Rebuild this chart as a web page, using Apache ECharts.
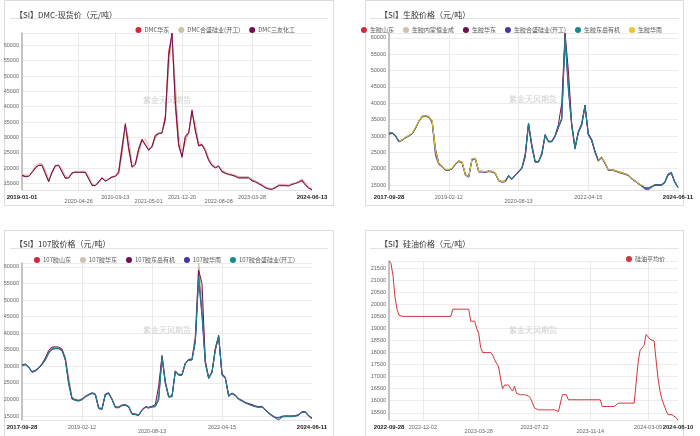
<!DOCTYPE html>
<html><head><meta charset="utf-8">
<script src="https://cdn.jsdelivr.net/npm/echarts@6/dist/echarts.min.js"></script>
<style>html,body{margin:0;padding:0;background:#fff}#c{width:700px;height:436px}</style>
</head><body><div id="c"></div>
<script>
// ---------- Panel 1: DMC ----------
const dmcNames = ['DMC华东', 'DMC合盛硅业(开工)', 'DMC三友化工'];
const dmcHuadong = [17800,17400,17500,18800,20300,21000,21000,18500,15800,18800,
 20900,21000,19000,16900,17000,18500,18800,18700,18800,18700,
 16700,14600,14400,15600,17000,15900,16500,17200,17500,19000,
 27000,34000,26000,20500,21500,26500,29500,27800,26000,27200,
 30800,31500,31600,37000,58000,63500,40000,27000,24000,30500,
 31600,39000,32000,27500,27800,25800,22800,21000,20300,20800,
 19000,18500,18100,17900,17500,17000,17000,17000,17000,16100,
 15700,15100,14500,13800,13400,13300,13800,14500,14500,14500,
 14400,14900,15200,15600,16200,14700,13700,13100];
const dmcHesheng = [18000,17800,17700,19000,20800,21600,21500,19500,16500,18200,
 20500,21200,19800,17500,16800,18000,19000,19000,19000,19000,
 17500,15000,14500,15000,16500,16500,16200,17000,17500,18000,
 24000,33500,30000,22000,21000,24500,28500,29500,27000,26500,
 29500,31500,31800,35000,52000,63000,48000,31000,25000,28000,
 31500,37500,35000,28500,28000,26500,23500,21500,20500,20800,
 19500,18800,18300,18000,17800,17300,17200,17300,17200,16500,
 15900,15400,14800,14000,13600,13300,13500,14300,14600,14600,
 14500,14800,15300,15700,16500,15500,14000,13300];
const dmcSanyou = [17600,17200,17300,18500,20000,20900,20900,18200,15600,18600,
 20700,20900,18800,16700,16800,18400,18700,18600,18700,18600,
 16500,14400,14300,15500,16800,15700,16400,17100,17300,18500,
 26000,34500,27000,20300,21200,26000,29200,27500,25800,27000,
 30500,31200,31400,36000,56000,64000,42000,28000,23500,30000,
 31400,38500,32500,27200,27600,25500,22500,20800,20100,20600,
 18800,18300,17900,17700,17300,16800,16800,16800,16800,15900,
 15500,14900,14300,13600,13200,13100,13600,14300,14300,14300,
 14200,14700,15000,15400,15900,14500,13500,12900];
const dmcTickIdx = [0,17,28,38,48,59,69,87];
const dmcTickText = ['2019-01-01','2020-04-26','2020-09-13','2021-05-01','2021-12-20','2022-08-08','2023-03-28','2024-06-13'];

// ---------- Panel 2: 生胶 ----------
const gumNames = ['生胶山东','生胶内蒙恒业成','生胶华东','生胶合盛硅业(开工)','生胶东岳有机','生胶华南'];
const gumShandong = [30700,30900,30000,28300,28800,29500,30100,30800,32400,34500,
 35900,36000,35800,34300,25500,21500,20600,19700,19600,20000,
 21400,22200,21900,18100,17500,22900,23000,19100,19100,19000,
 19200,19100,18600,16400,16000,16100,17800,16800,18000,19100,
 20100,23800,33700,26800,22100,22100,24400,30200,28300,28300,
 29900,32700,35300,61000,45500,33400,26200,31100,33400,39200,
 30400,28700,25200,22500,23400,21800,19600,19600,19400,19000,
 18700,18400,18000,17000,16300,15500,14800,14100,14000,14400,
 15000,15000,15000,15800,18200,18700,16000,14300];
const gumHengyecheng = [30500,30700,29900,28500,28900,29400,30000,30600,32200,34300,
 35800,36000,35800,34500,26000,21800,20800,19900,19800,20200,
 21600,22300,22000,18300,17700,22700,22900,19300,19300,19200,
 19300,19200,18800,16600,16200,16300,17800,17000,18100,19200,
 20300,23700,33200,27200,22300,22300,24300,30000,28500,28500,
 30100,32600,35200,59000,46000,33800,26500,31000,33300,38800,
 30600,28900,25400,22700,23600,21900,19800,19800,19600,19200,
 18900,18600,18200,17200,16500,15700,15000,14300,14200,14600,
 15200,15200,15200,15900,18100,18600,16200,14500];
const gumHuadong = [30600,30900,30100,28400,28900,29600,30200,30900,32600,34700,
 36100,36200,36000,34600,26000,21700,20700,19800,19700,20100,
 21600,22400,22100,18200,17600,23100,23200,19200,19200,19100,
 19300,19200,18700,16500,16100,16200,18000,16900,18100,19200,
 20300,24500,34000,27500,22200,22200,24800,30500,28400,28400,
 30200,33500,40000,61500,50000,34000,26500,31500,33800,39500,
 30800,29000,25500,22600,23600,21900,19700,19700,19500,19100,
 18800,18500,18100,17100,16400,15600,14900,14200,14100,14500,
 15100,15100,15100,15900,18400,18900,16100,14400];
const gumHesheng = [31000,30800,29800,28200,28700,29400,30000,30700,32300,34500,
 35900,36000,35800,34000,24000,21300,20500,19600,19500,19900,
 21300,22200,21800,18000,17400,22800,23000,19000,19000,18900,
 19100,19000,18500,16300,15900,16000,17700,16700,17900,19000,
 20000,23500,33500,26500,22000,22000,24200,30000,28200,28200,
 29800,32500,35000,60000,44000,33000,26000,31000,33200,39000,
 30300,28600,25000,22300,23300,21600,19500,19500,19300,18900,
 18600,18300,17900,16900,16200,15400,14700,13800,13500,14300,
 14900,14900,14900,15600,18000,18600,15800,14200];
const gumDongyue = [30800,31000,30000,28300,28800,29500,30100,30800,32500,34600,
 36000,36100,35900,34500,25000,21500,20600,19700,19600,20000,
 21500,22300,22000,18100,17500,23000,23100,19100,19100,19000,
 19200,19100,18600,16400,16000,16100,17900,16800,18000,19100,
 20200,24000,33900,27000,22100,22100,24500,30300,28300,28300,
 30000,32800,35500,60500,45000,33500,26300,31200,33500,39300,
 30500,28800,25300,22500,23500,21800,19600,19600,19400,19000,
 18700,18400,18000,17000,16300,15500,14800,14100,14000,14400,
 15000,15000,15000,15800,18300,18800,16000,14300];
const gumHuanan = [null,null,null,28400,28900,29600,30200,30900,32600,34700,
 36100,36200,36000,34600,25500,21600,20700,19800,19700,20100,
 21600,22400,22100,18200,17600,23100,23200,19200,19200,19100,
 19300,19200,18700,16500,16100,16200,null,null,null,null,
 null,null,null,null,null,null,null,null,null,null,
 null,null,null,null,null,null,null,null,null,null,
 null,null,null,22600,23600,21900,19700,19700,19500,19100,
 18800,18500,18100,17100,16400,15600,14900,null,null,null,
 null,null,null,null,null,null,null,null];
const gumTickIdx = [0,18,39,60,87];
const gumTickText = ['2017-09-28','2019-02-12','2020-08-13','2022-04-15','2024-06-11'];

// ---------- Panel 3: 107胶 ----------
const g107Names = ['107胶山东','107胶华东','107胶东岳有机','107胶华南','107胶合盛硅业(开工)'];
const g107Shandong = [30200,30500,29700,28200,28600,29400,30500,32200,34300,35500,
 35600,35500,35000,32500,26000,20400,19900,19700,20100,20900,
 21500,22000,21600,17500,17200,21600,22000,20100,17700,17700,
 18300,18400,17900,15700,15600,15300,16900,17800,17600,17900,
 18000,21000,33000,25500,21000,21000,28600,27500,27500,31000,
 32000,32200,38000,60000,47000,31500,26500,28300,35200,39200,
 27800,26700,21200,21900,21300,20200,19700,19100,18700,18300,
 18000,17800,17900,16900,16000,15200,14600,14500,14900,15000,
 15000,15000,15100,15400,16300,16300,15100,14400];
const g107Huadong = [30000,30300,29600,28500,28900,29700,30800,32500,34600,35800,
 35800,35600,35200,33000,27000,20800,20200,19900,20300,21000,
 21600,22100,21800,17800,17400,21700,22100,20300,17900,17900,
 18400,18500,18000,15900,15700,15400,17000,17900,17700,18000,
 18100,21500,33500,26000,21200,21200,28800,27700,27700,31200,
 32200,32500,40000,61200,50000,32000,26800,28500,35500,39500,
 28000,26900,21500,22000,21500,20400,19800,19200,18800,18400,
 18100,17900,18000,17000,16100,15300,14700,14600,15000,15100,
 15100,15100,15200,15500,16400,16400,15200,14500];
const g107Dongyue = [30500,30700,29900,28400,28800,29600,30800,32500,34800,35800,
 35900,35800,35200,32300,25500,20300,19900,19700,20100,20900,
 21500,22000,21600,17400,17200,21600,22000,20100,17700,17700,
 18300,18400,17900,15700,15600,15300,16900,17800,17600,17900,
 18500,24000,33200,25200,20900,21000,28600,27500,27500,31000,
 32000,32100,38500,59000,55000,31500,26500,28300,35500,39300,
 27700,26600,21100,21900,21300,20200,19700,19100,18700,18500,
 18000,17800,17900,16900,16000,15200,14600,14500,14900,15000,
 15000,15000,15100,15400,16300,16300,15100,14400];
const g107Huanan = [30300,30500,29700,28200,28600,29400,30500,31900,33900,35100,
 35300,35300,34700,31800,24500,20100,19700,19500,19900,20700,
 21300,21800,21400,17200,17000,21400,21800,19900,17500,17500,
 18100,18200,17700,15500,15400,15100,16700,17600,17400,17700,
 17800,19800,32700,24800,20700,20800,28400,27300,27300,30800,
 31800,31900,37300,56000,45000,30800,26300,28100,34800,38800,
 27300,26300,20900,21700,21100,20000,19500,18900,18500,18100,
 17800,17600,17700,16700,15800,15000,14400,13800,14700,14800,
 14800,14800,14900,15200,16100,16100,14900,14200];
const g107Hesheng = [30400,30600,29800,28300,28700,29500,30600,32000,34000,35200,
 35400,35400,34800,32000,25000,20200,19800,19600,20000,20800,
 21400,21900,21500,17300,17100,21500,21900,20000,17600,17600,
 18200,18300,17800,15600,15500,15200,16800,17700,17500,17800,
 17900,20000,32900,25000,20800,20900,28500,27400,27400,30900,
 31900,32000,37500,57000,46000,31000,26400,28200,35000,39000,
 27500,26500,21000,21800,21200,20100,19600,19000,18600,18200,
 17900,17700,17800,16800,15900,15100,14500,14400,14800,14900,
 14900,14900,15000,15300,16200,16200,15000,14300];
const g107TickIdx = [0,18,39,60,87];
const g107TickText = ['2017-09-28','2019-02-12','2020-08-13','2022-04-15','2024-06-11'];

// ---------- Panel 4: 硅油 ----------
const oilNames = ['硅油平均价'];
const oilAvg = [21800,21700,21200,20300,19800,19550,
 19500,19500,19500,19500,19500,19500,19500,19500,19500,19500,
 19500,19500,19500,19500,19500,19500,19500,19500,19500,19500,
 19500,19500,19500,19500,19500,19500,
 19800,19800,19800,19800,19800,19800,19800,19800,19800,
 19300,19300,19300,
 19000,18800,18200,18000,18000,18000,18000,18000,17900,17700,17700,17400,16900,16500,16650,16650,16650,16500,16400,16600,16300,
 16250,16250,16250,16250,16250,
 16200,16100,15900,15700,
 15620,15620,15620,15620,15620,15620,15620,15620,15620,15620,15620,
 15550,15550,
 16250,16250,16250,
 16040,16040,16040,16040,16040,16040,16040,16040,16040,16040,16040,16040,16040,16040,16040,16040,16040,
 15760,15760,15760,15760,15760,15760,15760,15760,
 15900,15900,15900,15900,15900,15900,15900,15900,15900,15900,
 17600,18100,18200,18300,18750,18750,18550,18480,18480,18400,16900,16400,16040,16040,15600,
 15420,15420,15420,15420,
 15300,15200];
const oilTickIdx = [0,17,45,73,101,130,145];
const oilTickText = ['2022-09-28','2022-12-02','2023-03-28','2023-07-22','2023-11-14','2024-03-09','2024-06-10'];

const titles = ['【SI】DMC-现货价（元/吨）','【SI】生胶价格（元/吨）','【SI】107胶价格（元/吨）','【SI】硅油价格（元/吨）'];
const watermark = '紫金天风期货';

// ---------- colours ----------
const C_RED = '#d4283a', C_BEIGE = '#cbc3ad', C_MAROON = '#72104e', C_INDIGO = '#46399a', C_TEAL = '#178a8c', C_YELLOW = '#f3c22c';

const FONT = '"Noto Sans CJK SC","Noto Sans",sans-serif';
const NUMFONT = 'Arial, "Liberation Sans", sans-serif';

function xAxisCfg(gridIndex, n, tickIdx, tickText, lowered) {
  const pos = {};
  tickIdx.forEach((t, k) => { pos[t] = k; });
  return {
    type: 'category', gridIndex, boundaryGap: false,
    data: Array.from({ length: n }, (_, i) => String(i)),
    axisLine: { show: true, lineStyle: { color: '#e2e2e2', width: 1 } },
    axisTick: { show: false },
    axisLabel: {
      interval: (i) => pos[i] !== undefined,
      margin: 4,
      fontFamily: NUMFONT,
      formatter: (v, i) => {
        const k = pos[i];
        if (k === undefined) return '';
        const t = tickText[k];
        if (k === 0 || k === tickIdx.length - 1) return '{b|' + t + '}';
        return lowered.includes(k) ? '{l|' + t + '}' : '{n|' + t + '}';
      },
      rich: {
        b: { fontSize: 6, fontWeight: 'bold', color: '#222', fontFamily: NUMFONT },
        n: { fontSize: 5.5, color: '#666', fontFamily: NUMFONT },
        l: { fontSize: 5.5, color: '#666', padding: [4, 0, 0, 0], fontFamily: NUMFONT }
      }
    },
    splitLine: { show: true, interval: (i) => pos[i] !== undefined && i !== 0 && i !== n - 1, lineStyle: { color: '#e9e9e9', width: 1 } }
  };
}
function yAxisCfg(gridIndex, splitNumber, step) {
  return {
    type: 'value', gridIndex, min: 'dataMin', max: 'dataMax', splitNumber,
    axisLine: { show: true, lineStyle: { color: '#b0b0b0', width: 1.5 } },
    axisTick: { show: false },
    axisLabel: { fontSize: 5.5, color: '#666', margin: 3, showMinLabel: false, showMaxLabel: false,
      fontFamily: NUMFONT,
      formatter: (v) => (Math.abs(v % step) < 1e-6 ? String(v) : '') },
    splitLine: { show: true, lineStyle: { color: '#ececec', width: 1 } }
  };
}
function lineSeries(name, data, color, idx) {
  return { name, type: 'line', data, xAxisIndex: idx, yAxisIndex: idx, showSymbol: false, symbol: 'circle',
    connectNulls: false, lineStyle: { width: 1, color }, itemStyle: { color }, animation: false };
}

const grids = [
  { left: 22, right: 388, top: 33, bottom: 246 },
  { left: 389, right: 22, top: 33, bottom: 246 },
  { left: 22, right: 388, top: 263, bottom: 16 },
  { left: 389, right: 22, top: 261, bottom: 16 }
];

const legendBase = { icon: 'circle', itemWidth: 6, itemHeight: 6, itemGap: 9,
  textStyle: { fontSize: 6, color: '#555', fontFamily: FONT, padding: [0, 0, 0, -2] } };

const option = {
  animation: false,
  backgroundColor: '#fff',
  title: [
    { text: titles[0], left: 10, top: 6 },
    { text: titles[1], left: 375, top: 6 },
    { text: titles[2], left: 10, top: 235 },
    { text: titles[3], left: 375, top: 235 }
  ].map(t => Object.assign(t, { textStyle: { fontSize: 8, fontWeight: 'normal', color: '#333', fontFamily: FONT } })),
  legend: [
    Object.assign({ data: dmcNames, right: 400, top: 22 }, legendBase),
    Object.assign({ data: gumNames, right: 33, top: 22 }, legendBase),
    Object.assign({ data: g107Names, right: 400, top: 252 }, legendBase),
    Object.assign({ data: oilNames, right: 30, top: 251 }, legendBase)
  ],
  grid: grids,
  xAxis: [
    xAxisCfg(0, dmcSanyou.length, dmcTickIdx, dmcTickText, [1, 3, 5]),
    xAxisCfg(1, gumDongyue.length, gumTickIdx, gumTickText, [2]),
    xAxisCfg(2, g107Hesheng.length, g107TickIdx, g107TickText, [2]),
    xAxisCfg(3, oilAvg.length, oilTickIdx, oilTickText, [2, 4])
  ],
  yAxis: [yAxisCfg(0, 10, 5000), yAxisCfg(1, 10, 5000), yAxisCfg(2, 10, 5000), yAxisCfg(3, 13, 500)],
  series: [
    lineSeries(dmcNames[0], dmcHuadong, C_RED, 0),
    lineSeries(dmcNames[1], dmcHesheng, C_BEIGE, 0),
    lineSeries(dmcNames[2], dmcSanyou, C_MAROON, 0),
    lineSeries(gumNames[0], gumShandong, C_RED, 1),
    lineSeries(gumNames[1], gumHengyecheng, C_BEIGE, 1),
    lineSeries(gumNames[2], gumHuadong, C_MAROON, 1),
    lineSeries(gumNames[3], gumHesheng, C_INDIGO, 1),
    lineSeries(gumNames[4], gumDongyue, C_TEAL, 1),
    lineSeries(gumNames[5], gumHuanan, C_YELLOW, 1),
    lineSeries(g107Names[0], g107Shandong, C_RED, 2),
    lineSeries(g107Names[1], g107Huadong, C_BEIGE, 2),
    lineSeries(g107Names[2], g107Dongyue, C_MAROON, 2),
    lineSeries(g107Names[3], g107Huanan, C_INDIGO, 2),
    lineSeries(g107Names[4], g107Hesheng, C_TEAL, 2),
    lineSeries(oilNames[0], oilAvg, '#d2363c', 3)
  ],
  graphic: [
    { type: 'rect', shape: { x: 4.5, y: 0.5, width: 329, height: 205 }, style: { fill: 'none', stroke: '#dcdcdc', lineWidth: 1 }, z: -1 },
    { type: 'rect', shape: { x: 365.5, y: 0.5, width: 318, height: 205 }, style: { fill: 'none', stroke: '#dcdcdc', lineWidth: 1 }, z: -1 },
    { type: 'rect', shape: { x: 4.5, y: 230.5, width: 329, height: 210 }, style: { fill: 'none', stroke: '#dcdcdc', lineWidth: 1 }, z: -1 },
    { type: 'rect', shape: { x: 365.5, y: 230.5, width: 318, height: 210 }, style: { fill: 'none', stroke: '#dcdcdc', lineWidth: 1 }, z: -1 },
    { type: 'line', shape: { x1: 10, y1: 18.5, x2: 328, y2: 18.5 }, style: { stroke: '#e4e4e4', lineWidth: 1 } },
    { type: 'line', shape: { x1: 370, y1: 18.5, x2: 679, y2: 18.5 }, style: { stroke: '#e4e4e4', lineWidth: 1 } },
    { type: 'line', shape: { x1: 10, y1: 248.5, x2: 328, y2: 248.5 }, style: { stroke: '#e4e4e4', lineWidth: 1 } },
    { type: 'line', shape: { x1: 370, y1: 248.5, x2: 679, y2: 248.5 }, style: { stroke: '#e4e4e4', lineWidth: 1 } },
    { type: 'text', x: 167, y: 100, style: { text: watermark, fill: '#cfcfcf', font: '8px ' + FONT, textAlign: 'center', textVerticalAlign: 'middle' }, z: 1 },
    { type: 'text', x: 533, y: 99, style: { text: watermark, fill: '#cfcfcf', font: '8px ' + FONT, textAlign: 'center', textVerticalAlign: 'middle' }, z: 1 },
    { type: 'text', x: 167, y: 330, style: { text: watermark, fill: '#cfcfcf', font: '8px ' + FONT, textAlign: 'center', textVerticalAlign: 'middle' }, z: 1 },
    { type: 'text', x: 533, y: 330, style: { text: watermark, fill: '#cfcfcf', font: '8px ' + FONT, textAlign: 'center', textVerticalAlign: 'middle' }, z: 1 }
  ]
};

const chart = echarts.init(document.getElementById('c'), null, { renderer: 'canvas' });
chart.setOption(option);
</script>
</body></html>
